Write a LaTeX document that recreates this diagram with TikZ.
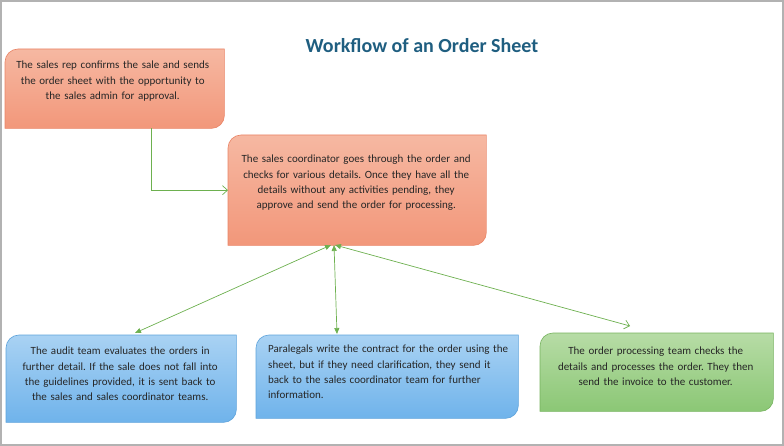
\documentclass[tikz,border=0pt]{standalone}
\usepackage{fontspec}
\setmainfont{Carlito}
\frenchspacing
\usetikzlibrary{arrows.meta}

\definecolor{titleblue}{HTML}{1F5E80}
\definecolor{orangetop}{HTML}{F6B8A2}
\definecolor{orangebot}{HTML}{F2977A}
\definecolor{orangeedge}{HTML}{E98466}
\definecolor{bluetop}{HTML}{A9D2F3}
\definecolor{bluebot}{HTML}{6FB3EB}
\definecolor{blueedge}{HTML}{5EA3DB}
\definecolor{greentop}{HTML}{B7DCA6}
\definecolor{greenbot}{HTML}{8BC775}
\definecolor{greenedge}{HTML}{76B35E}
\definecolor{linkgreen}{HTML}{6DB04F}

\tikzset{
  card/.style={anchor=north west, inner sep=6pt, align=center,
    font=\fontsize{11}{15.3}\selectfont, text=black!85},
  link/.style={draw=linkgreen, line width=0.7pt},
  open end/.style={-{Straight Barb[length=5pt,width=9pt]}},
  both ends/.style={{Triangle[length=6pt,width=5pt]}-{Triangle[length=6pt,width=5pt]}},
}

% card outline: rounded top left and bottom right corners
\newcommand\cardshape[4]{%
  \draw[draw=#2, top color=#3, bottom color=#4, line width=0.6pt]
    (#1.south west) -- ([yshift=-13pt]#1.north west) arc (180:90:13pt)
    -- (#1.north east) -- ([yshift=13pt]#1.south east) arc (0:-90:13pt)
    -- cycle;}

\begin{document}
\begin{tikzpicture}[x=1pt,y=1pt]
\useasboundingbox (0,0) rectangle (784,-446);
\draw[black!30, line width=1.5pt] (1,-1) rectangle (783,-445);

%% Title
\node[font=\fontsize{20}{24}\bfseries\selectfont, text=titleblue] (title) at (422,-46) {Workflow of an Order Sheet};

%% Cards
\node[card, minimum width=219pt, minimum height=79pt, text width=205pt] (rep) at (5,-49) {};
\node[card, minimum width=258pt, minimum height=110pt, text width=240pt] (coord) at (228,-135) {};
\node[card, minimum width=230pt, minimum height=87pt, text width=210pt] (audit) at (6,-335) {};
\node[card, minimum width=262pt, minimum height=83pt, text width=240pt] (para) at (256,-335) {};
\node[card, minimum width=233pt, minimum height=78pt, text width=215pt] (proc) at (540,-333) {};

\cardshape{rep}{orangeedge}{orangetop}{orangebot}
\cardshape{coord}{orangeedge}{orangetop}{orangebot}
\cardshape{audit}{blueedge}{bluetop}{bluebot}
\cardshape{para}{blueedge}{bluetop}{bluebot}
\cardshape{proc}{greenedge}{greentop}{greenbot}

%% Texts
\node[card, text width=207pt] (reptext) at (3,-55) {The sales rep confirms the sale and sends\\the order sheet with the opportunity to\\the sales admin for approval.};
\node[card, text width=250pt] (coordtext) at (225,-149) {The sales coordinator goes through the order and\\checks for various details. Once they have all the\\details without any activities pending, they\\approve and send the order for processing.};
\node[card, text width=220pt] (audittext) at (4,-341) {The audit team evaluates the orders in\\further detail. If the sale does not fall into\\the guidelines provided, it is sent back to\\the sales and sales coordinator teams.};
\node[card, align=left, text width=256pt] (paratext) at (262,-339) {Paralegals write the contract for the order using the\\sheet, but if they need clarification, they send it\\back to the sales coordinator team for further\\information.};
\node[card, text width=225pt] (proctext) at (537,-341) {The order processing team checks the\\details and processes the order. They then\\send the invoice to the customer.};

%% Links
\coordinate (hub) at (331,-245);
\coordinate (auditend) at (135,-333);
\coordinate (paraend) at (337,-334);
\coordinate (procend) at (630,-326);
\draw[link, open end] ([xshift=37pt]rep.south) |- (coord.west);
\draw[link, both ends] (hub) -- (auditend);
\draw[link, both ends] ([xshift=3pt]hub) -- (paraend);
\draw[link, {Triangle[length=6pt,width=5pt]}-{Straight Barb[length=5pt,width=9pt]}] ([xshift=4pt]hub) -- (procend);
\end{tikzpicture}
\end{document}
